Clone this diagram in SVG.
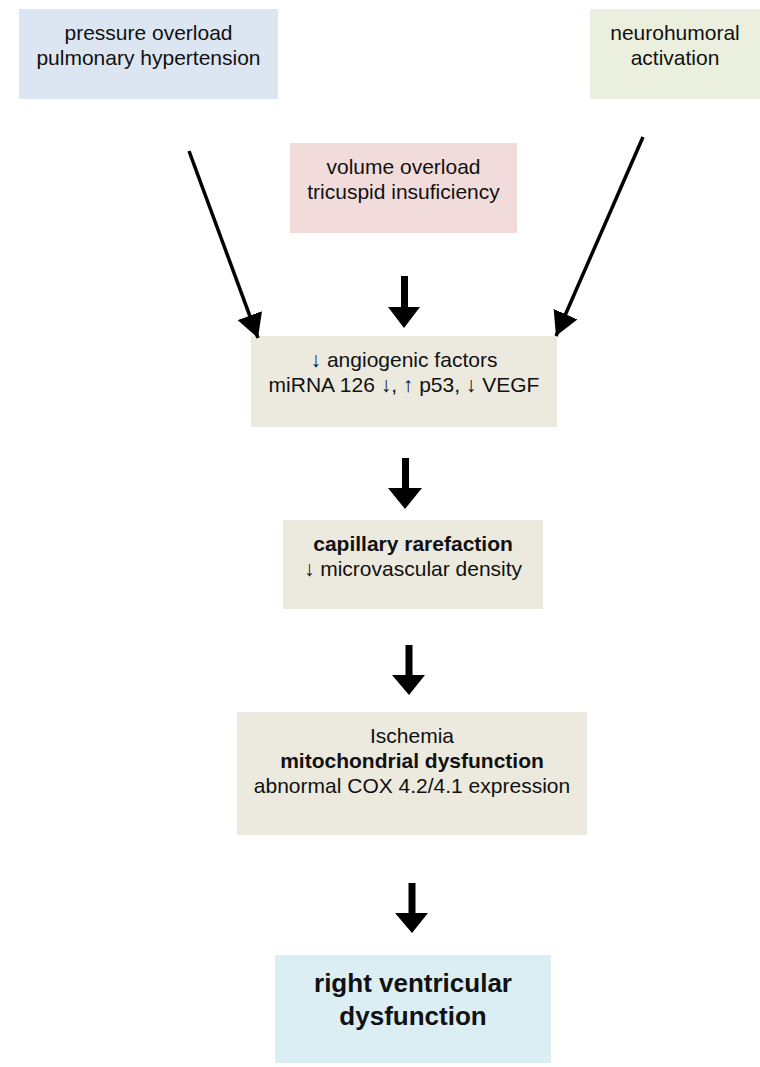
<svg xmlns="http://www.w3.org/2000/svg" width="760" height="1067" viewBox="0 0 760 1067">
<style>
text{font-family:"Liberation Sans",Arial,sans-serif;font-size:21px;fill:#111;text-anchor:middle}
.b{font-weight:bold}
.t{font-size:26px;font-weight:bold}
.ln{stroke:#000;stroke-width:3.5;fill:none}
.ar{fill:#000}
</style>
<defs>
<marker id="ah" markerUnits="userSpaceOnUse" markerWidth="26" markerHeight="26" refX="22" refY="12" orient="auto" viewBox="0 0 24 24">
<path d="M0,0 L22,12 L0,24 Z" fill="#000"/>
</marker>
</defs>
<rect width="760" height="1067" fill="#fff"/>
<g id="n1">
<rect x="19" y="9" width="259" height="90" fill="#dce6f2"/>
<text x="148.5" y="40">pressure overload</text>
<text x="148.5" y="65">pulmonary hypertension</text>
</g>
<g id="n2">
<rect x="590" y="9" width="170" height="90" fill="#ebf0de"/>
<text x="675" y="40">neurohumoral</text>
<text x="675" y="65">activation</text>
</g>
<g id="n3">
<rect x="290" y="143" width="227" height="90" fill="#f2dcdb"/>
<text x="403.5" y="174">volume overload</text>
<text x="403.5" y="199">tricuspid insuficiency</text>
</g>
<g id="n4">
<rect x="251" y="336" width="306" height="91" fill="#eceadf"/>
<text x="404" y="367">↓ angiogenic factors</text>
<text x="404" y="392">miRNA 126 ↓, ↑ p53, ↓ VEGF</text>
</g>
<g id="n5">
<rect x="283" y="520" width="260" height="89" fill="#eceadf"/>
<text x="413" y="551" class="b">capillary rarefaction</text>
<text x="413" y="576">↓ microvascular density</text>
</g>
<g id="n6">
<rect x="237" y="712" width="350" height="123" fill="#eceadf"/>
<text x="412" y="743">Ischemia</text>
<text x="412" y="768" class="b">mitochondrial dysfunction</text>
<text x="412" y="793">abnormal COX 4.2/4.1 expression</text>
</g>
<g id="n7">
<rect x="275" y="955" width="276" height="108" fill="#dbeef4"/>
<text x="413" y="992" class="t">right ventricular</text>
<text x="413" y="1025" class="t">dysfunction</text>
</g>
<g id="connectors">
<line class="ln" x1="189" y1="151" x2="258" y2="338" marker-end="url(#ah)"/>
<line class="ln" x1="643" y1="137" x2="556" y2="336" marker-end="url(#ah)"/>
<path class="ar" d="M401,276 H408 V307 H420 L404,328 L388,307 H401 Z"/>
<path class="ar" d="M402,458 H409 V488 H422 L405,509 L388,488 H402 Z"/>
<path class="ar" d="M405.5,645 H412.5 V675 H425 L409,695 L392,675 H405.5 Z"/>
<path class="ar" d="M408.5,883 H415.5 V913 H428 L412,933 L395,913 H408.5 Z"/>
</g>
</svg>
